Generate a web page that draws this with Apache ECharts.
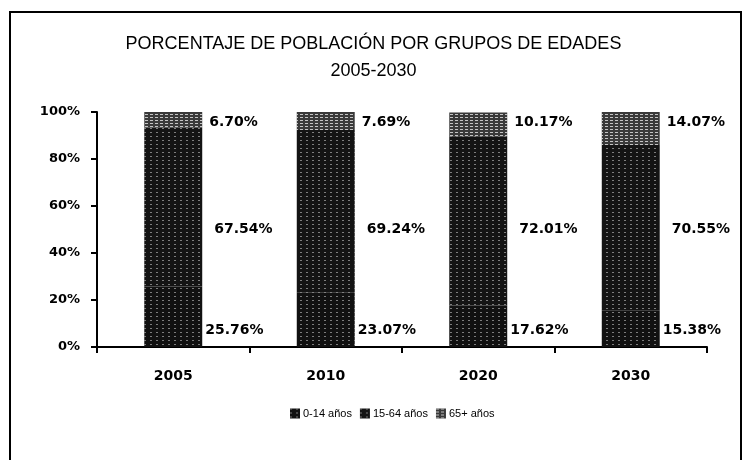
<!DOCTYPE html>
<html>
<head>
<meta charset="utf-8">
<script src="https://cdn.jsdelivr.net/npm/echarts@6/dist/echarts.min.js"></script>
<style>
  html, body { margin: 0; padding: 0; background: #fff; }
  #chart { width: 747px; height: 460px; }
</style>
</head>
<body>
<div id="chart"></div>
<script>
// data
const years = ['2005', '2010', '2020', '2030'];
const kids = [25.76, 23.07, 17.62, 15.38];     // 0-14 años
const adults = [67.54, 69.24, 72.01, 70.55];   // 15-64 años
const elders = [6.70, 7.69, 10.17, 14.07];     // 65+ años
const seriesNames = ['0-14 años', '15-64 años', '65+ años'];
const yTicks = [0, 20, 40, 60, 80, 100];

const chart = echarts.init(document.getElementById('chart'));

const labelFont = { fontFamily: 'DejaVu Sans', fontSize: 14, fontWeight: 'bold', color: '#000' };

// labels sit at a fixed level of the axis, placed relative to each segment
function labelAt(level, bottom, value, gap) {
    const top = bottom + value;
    let frac = (top - level) / value;
    frac = Math.max(0, Math.min(1, frac));
    return {
        show: true,
        position: ['100%', (frac * 100) + '%'],
        offset: [gap, 0],
        align: 'left',
        verticalAlign: 'middle',
        formatter: value.toFixed(2) + '%',
        ...labelFont
    };
}

const darkDecal = {
    symbol: 'rect',
    symbolSize: 1,
    color: 'rgba(255,255,255,0.45)',
    dashArrayX: [[2, 4]],
    dashArrayY: [1, 3],
    rotation: 0
};
const lightDecal = {
    symbol: 'rect',
    symbolSize: 1,
    color: 'rgba(255,255,255,0.7)',
    dashArrayX: [[3, 2]],
    dashArrayY: [1, 2],
    rotation: 0
};

const titleFont = { fontFamily: 'Liberation Sans', fontSize: 18, fontWeight: 'normal', color: '#000' };

chart.setOption({
    animation: false,
    title: [{
        text: 'PORCENTAJE DE POBLACIÓN POR GRUPOS DE EDADES',
        left: 'center',
        top: 35,
        padding: [0, 0, 0, 12],
        textStyle: titleFont
    }, {
        text: '2005-2030',
        left: 'center',
        top: 62,
        padding: [0, 0, 0, 12],
        textStyle: titleFont
    }],
    graphic: [{
        type: 'rect',
        shape: { x: 10, y: 12, width: 731, height: 470 },
        style: { fill: 'none', stroke: '#000', lineWidth: 2 },
        silent: true
    }],
    legend: {
        left: 290,
        top: 408,
        padding: 0,
        icon: 'rect',
        itemWidth: 10,
        itemHeight: 10,
        itemGap: 8,
        data: seriesNames,
        textStyle: { fontFamily: 'Liberation Sans', fontSize: 11, color: '#000', padding: [0, 0, 0, -2] }
    },
    grid: { left: 97, right: 40, top: 112, bottom: 113 },
    xAxis: {
        type: 'category',
        data: years,
        axisLine: { lineStyle: { color: '#000', width: 2 } },
        axisTick: { show: true, length: 6, lineStyle: { color: '#000', width: 2 } },
        axisLabel: { margin: 22, fontFamily: 'DejaVu Sans', fontSize: 14, fontWeight: 'bold', color: '#000' }
    },
    yAxis: {
        type: 'value',
        min: 0,
        max: 100,
        interval: 20,
        axisLine: { show: true, lineStyle: { color: '#000', width: 2 } },
        axisTick: { show: true, length: 6, lineStyle: { color: '#000', width: 2 } },
        splitLine: { show: false },
        axisLabel: {
            margin: 17,
            fontFamily: 'DejaVu Sans',
            fontSize: 13,
            fontWeight: 'bold',
            color: '#000',
            formatter: v => yTicks.includes(v) ? v + '%' : ''
        }
    },
    series: [{
        name: seriesNames[0],
        type: 'bar',
        stack: 'total',
        barWidth: '38%',
        itemStyle: { color: '#111', decal: darkDecal },
        data: kids.map((v) => ({ value: v, label: labelAt(7, 0, v, 3) }))
    }, {
        name: seriesNames[1],
        type: 'bar',
        stack: 'total',
        itemStyle: { color: '#141414', decal: darkDecal },
        data: adults.map((v, i) => ({ value: v, label: labelAt(50, kids[i], v, 12) }))
    }, {
        name: seriesNames[2],
        type: 'bar',
        stack: 'total',
        itemStyle: { color: '#3a3a3a', decal: lightDecal },
        data: elders.map((v, i) => ({ value: v, label: labelAt(95.5, kids[i] + adults[i], v, 7) }))
    }]
});
</script>
</body>
</html>
